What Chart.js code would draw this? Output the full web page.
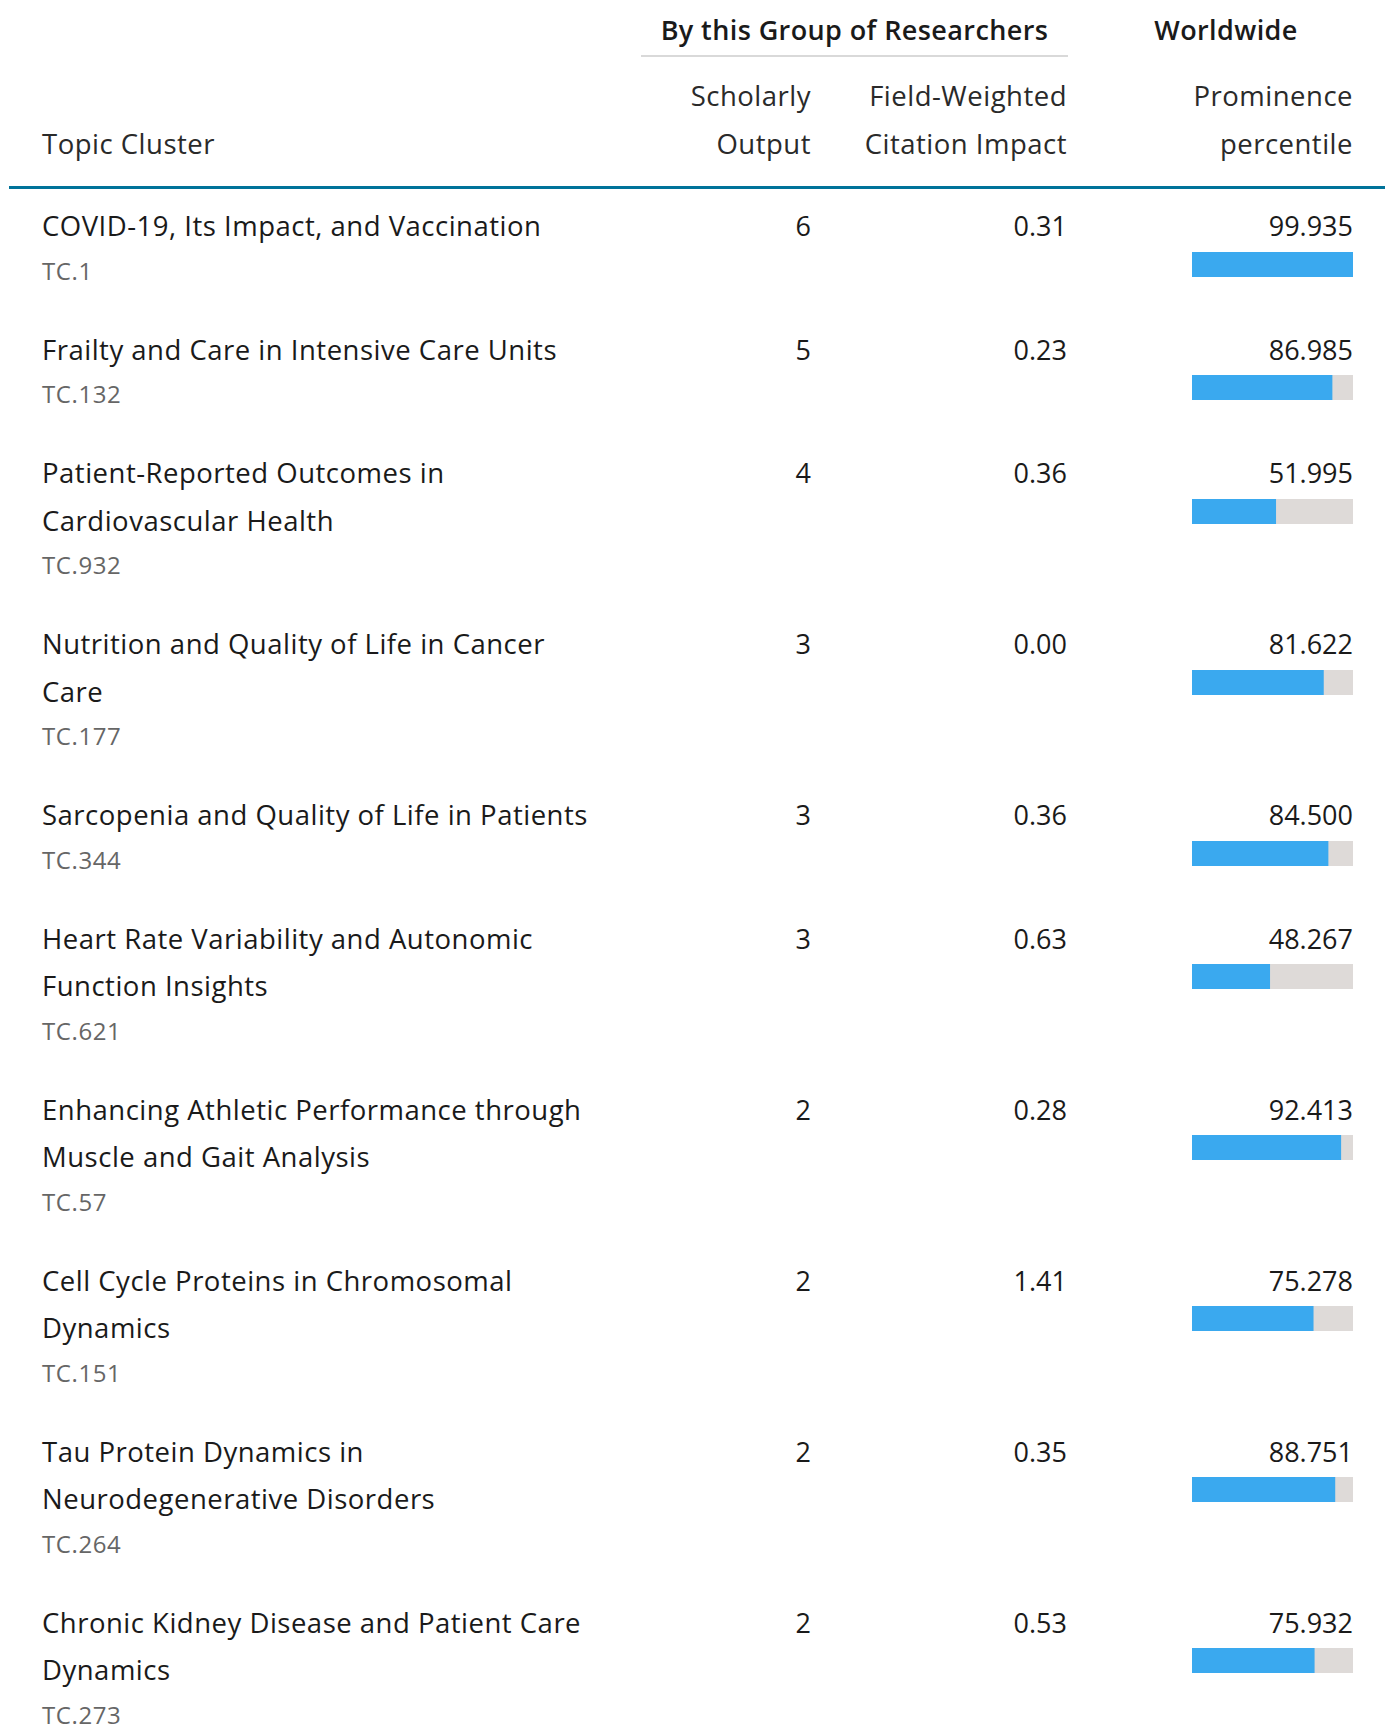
<!DOCTYPE html>
<html>
<head>
<meta charset="utf-8">
<script src="https://cdn.jsdelivr.net/npm/chart.js@4.4.1/dist/chart.umd.min.js"></script>
<style>
  html, body { margin: 0; padding: 0; background: #fff; overflow: hidden; }
  body { font-family: "Open Sans", "Noto Sans", sans-serif; color: #1a1a1a; }
  #page { position: relative; width: 1388px; height: 1726px; }
  .hd { position: absolute; font-size: 27.5px; letter-spacing: 0.5px; line-height: 48px; color: #2a2a2a; }
  .grp { position: absolute; font-weight: 600; font-size: 27px; letter-spacing: 0.4px; line-height: 40px; color: #1a1a1a; text-align: center; }
  #grpLine { position: absolute; left: 641px; top: 55px; width: 427px; height: 2px; background: #d9d9d9; }
  #rule { position: absolute; left: 9px; top: 186px; width: 1376px; height: 3px; background: #00739a; }
  #rows { position: absolute; left: 0; top: 189px; width: 1388px; }
  .row { display: grid; grid-template-columns: 42px 560px 209px 256px 286px; padding: 13px 0 20.5px 0; }
  .name { font-size: 27.5px; letter-spacing: 0.5px; line-height: 47.5px; }
  .code { font-size: 24px; letter-spacing: 0.6px; line-height: 42.5px; color: #666; }
  .num { font-size: 27px; line-height: 47.5px; text-align: right; }
  .prom { display: flex; flex-direction: column; align-items: flex-end; }
  .prom canvas { margin-top: 2px; }
</style>
</head>
<body>
<div id="page">
  <div class="grp" style="left:641px;width:427px;top:10px;">By this Group of Researchers</div>
  <div id="grpLine"></div>
  <div class="grp" style="left:1126px;width:200px;top:10px;">Worldwide</div>

  <div class="hd" style="left:595px;width:216px;top:72px;text-align:right;">Scholarly<br>Output</div>
  <div class="hd" style="left:811px;width:256px;top:72px;text-align:right;">Field-Weighted<br>Citation Impact</div>
  <div class="hd" style="left:1067px;width:286px;top:72px;text-align:right;">Prominence<br>percentile</div>
  <div class="hd" style="left:42px;top:120px;">Topic Cluster</div>
  <div id="rule"></div>

  <div id="rows"></div>
</div>

<script>
const topics = [
  'COVID-19, Its Impact, and Vaccination',
  'Frailty and Care in Intensive Care Units',
  'Patient-Reported Outcomes in Cardiovascular Health',
  'Nutrition and Quality of Life in Cancer Care',
  'Sarcopenia and Quality of Life in Patients',
  'Heart Rate Variability and Autonomic Function Insights',
  'Enhancing Athletic Performance through Muscle and Gait Analysis',
  'Cell Cycle Proteins in Chromosomal Dynamics',
  'Tau Protein Dynamics in Neurodegenerative Disorders',
  'Chronic Kidney Disease and Patient Care Dynamics',
];
const topicCodes = ['TC.1', 'TC.132', 'TC.932', 'TC.177', 'TC.344', 'TC.621', 'TC.57', 'TC.151', 'TC.264', 'TC.273'];
const scholarlyOutput = [6, 5, 4, 3, 3, 3, 2, 2, 2, 2];
const fwci = [0.31, 0.23, 0.36, 0.00, 0.36, 0.63, 0.28, 1.41, 0.35, 0.53];
const prominence = [99.935, 86.985, 51.995, 81.622, 84.500, 48.267, 92.413, 75.278, 88.751, 75.932];

const BAR_BLUE = '#3aa9ef';
const BAR_TRACK = '#dedad8';

// paints the unfilled part of the percentile bar
const trackPlugin = {
  id: 'track',
  beforeDatasetsDraw(chart) {
    const { ctx, chartArea } = chart;
    ctx.save();
    ctx.fillStyle = BAR_TRACK;
    ctx.fillRect(chartArea.left, chartArea.top, chartArea.right - chartArea.left, chartArea.bottom - chartArea.top);
    ctx.restore();
  },
};

function createPercentileBar(canvas, value) {
  return new Chart(canvas.getContext('2d'), {
    type: 'bar',
    data: {
      labels: [''],
      datasets: [{
        data: [value],
        backgroundColor: BAR_BLUE,
        borderWidth: 0,
        barPercentage: 1,
        categoryPercentage: 1,
      }],
    },
    options: {
      indexAxis: 'y',
      responsive: false,
      animation: false,
      layout: { padding: 0 },
      plugins: { legend: { display: false }, tooltip: { enabled: false } },
      scales: {
        x: { display: false, min: 0, max: 100 },
        y: { display: false },
      },
    },
    plugins: [trackPlugin],
  });
}

const rows = document.getElementById('rows');
topics.forEach((t, i) => {
  const row = document.createElement('div');
  row.className = 'row';
  row.innerHTML =
    '<div></div>' +
    '<div><div class="name">' + t + '</div><div class="code">' + topicCodes[i] + '</div></div>' +
    '<div class="num">' + scholarlyOutput[i] + '</div>' +
    '<div class="num">' + fwci[i].toFixed(2) + '</div>' +
    '<div class="prom"><div class="num">' + prominence[i].toFixed(3) + '</div>' +
    '<canvas width="161" height="25" style="width:161px;height:25px"></canvas></div>';
  rows.appendChild(row);
  createPercentileBar(row.querySelector('canvas'), prominence[i]);
});
</script>
</body>
</html>
